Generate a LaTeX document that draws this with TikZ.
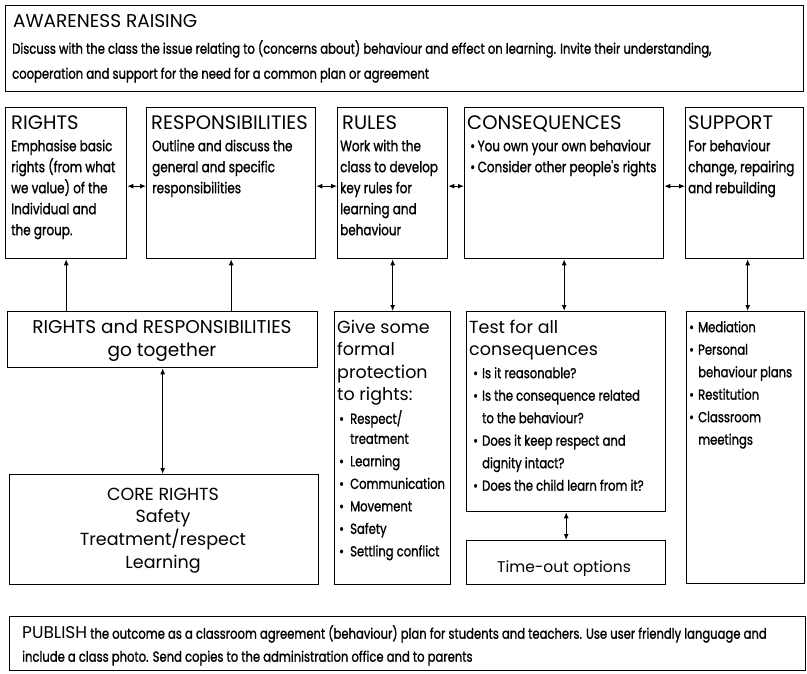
\documentclass[tikz,border=0pt]{standalone}
\usepackage{fontspec}
\setmainfont{Poppins}
\newfontfamily\geo{Poppins}
\newfontfamily\cond[FakeStretch=0.8,FakeBold=1.2]{Poppins}
\usetikzlibrary{arrows.meta}
\newcommand\topst[1]{\rule{0pt}{#1}}
\newcommand\bul{\makebox[9pt][l]{\textbullet}}
\newcommand\bulw{\makebox[11pt][l]{\textbullet}}
\newcommand\ind{\hspace*{9pt}}
\newcommand\indw{\hspace*{11pt}}
\begin{document}
\begin{tikzpicture}[x=1pt,y=-1pt,
  box/.style={draw, line width=1.3pt, rectangle, inner sep=0pt, anchor=north west},
  txt/.style={anchor=north west, inner sep=0pt, align=left},
  ctr/.style={anchor=north, inner sep=0pt, align=center},
  head/.style={font=\geo\fontsize{19.5}{21}\selectfont},
  ghead/.style={font=\geo\fontsize{17.5}{22.5}\selectfont},
  body/.style={font=\cond\fontsize{15}{21}\selectfont},
  lbody/.style={font=\cond\fontsize{14.5}{22.5}\selectfont},
  tip/.style={line width=1.1pt},
  both/.style={tip, {Latex[length=6pt,width=5pt]}-{Latex[length=6pt,width=5pt]}},
  up/.style={tip, -{Latex[length=6pt,width=5pt]}}
]
\useasboundingbox (0,0) rectangle (807,674);

% ---- boxes ----
\node[box, minimum width=798pt, minimum height=86pt] (aware) at (5,5) {};
\node[box, minimum width=121pt, minimum height=151pt] (rights) at (5,107) {};
\node[box, minimum width=169pt, minimum height=151pt] (resp) at (146,107) {};
\node[box, minimum width=110pt, minimum height=151pt] (rules) at (337,107) {};
\node[box, minimum width=199pt, minimum height=151pt] (conseq) at (464,107) {};
\node[box, minimum width=118pt, minimum height=151pt] (support) at (685,107) {};
\node[box, minimum width=310pt, minimum height=56pt] (rr) at (7,311) {};
\node[box, minimum width=116pt, minimum height=273pt] (prot) at (334,311) {};
\node[box, minimum width=199pt, minimum height=200pt] (test) at (466,311) {};
\node[box, minimum width=118pt, minimum height=272pt] (supl) at (686,311) {};
\node[box, minimum width=309pt, minimum height=110pt] (core) at (9,474) {};
\node[box, minimum width=199pt, minimum height=44pt] (timeout) at (466,540) {};
\node[box, minimum width=796pt, minimum height=54pt] (publish) at (9,616) {};

% ---- texts ----
\node[txt, font=\geo\fontsize{18.5}{19}\selectfont] (awareh) at (13,14) {\topst{13pt}AWARENESS RAISING};
\node[txt, font=\cond\fontsize{14.5}{25}\selectfont] (awareb) at (12,40) {\topst{12pt}Discuss with the class the issue relating to (concerns about) behaviour and effect on learning. Invite their understanding,\\
cooperation and support for the need for a common plan or agreement};

\node[txt, head] (rightsh) at (11,114) {\topst{15pt}RIGHTS};
\node[txt, body] (rightsb) at (11,139) {\topst{12pt}Emphasise basic\\rights (from what\\we value) of the\\Individual and\\the group.};
\node[txt, head] (resph) at (151,114) {\topst{15pt}RESPONSIBILITIES};
\node[txt, body] (respb) at (152,139) {\topst{12pt}Outline and discuss the\\general and specific\\responsibilities};
\node[txt, head] (rulesh) at (342,114) {\topst{15pt}RULES};
\node[txt, body] (rulesb) at (340,139) {\topst{12pt}Work with the\\class to develop\\key rules for\\learning and\\behaviour};
\node[txt, head] (conseqh) at (467,114) {\topst{15pt}CONSEQUENCES};
\node[txt, body] (conseqb) at (470,139) {\topst{12pt}\textbullet\,You own your own behaviour\\\textbullet\,Consider other people's rights};
\node[txt, head] (supporth) at (688,114) {\topst{15pt}SUPPORT};
\node[txt, body] (supportb) at (688,139) {\topst{12pt}For behaviour\\change, repairing\\and rebuilding};

\node[ctr, ghead, font=\geo\fontsize{18.5}{23}\selectfont] (rrt) at (162,318) {\topst{15pt}RIGHTS and RESPONSIBILITIES\\go together};

\node[txt, ghead] (proth) at (337,318) {\topst{15pt}Give some\\formal\\protection\\to rights:};
\node[txt, lbody] (protb) at (339,410) {\topst{12pt}\bulw Respect/\\[-2.5pt]\indw treatment\\\bulw Learning\\\bulw Communication\\\bulw Movement\\\bulw Safety\\\bulw Settling conflict};

\node[txt, ghead] (testh) at (469,318) {\topst{15pt}Test for all\\consequences};
\node[txt, lbody] (testb) at (473,366) {\topst{12pt}\bul Is it reasonable?\\\bul Is the consequence related\\\ind to the behaviour?\\\bul Does it keep respect and\\\ind dignity intact?\\\bul Does the child learn from it?};

\node[txt, lbody] (suplb) at (689,320) {\topst{12pt}\bul Mediation\\\bul Personal\\\ind behaviour plans\\\bul Restitution\\\bul Classroom\\\ind meetings};

\node[ctr, ghead, font=\geo\fontsize{17.5}{22.7}\selectfont] (coret) at (163,485) {\topst{15pt}CORE RIGHTS\\Safety\\Treatment/respect\\Learning};

\node[anchor=base, inner sep=0pt, font=\geo\fontsize{15.5}{18}\selectfont] (timeoutt) at (564,572) {Time-out options};

\node[txt, font=\cond\fontsize{14.5}{23}\selectfont] (publisht) at (22,625) {\topst{12pt}{\geo\fontsize{17}{18}\selectfont PUBLISH} the outcome as a classroom agreement (behaviour) plan for students and teachers. Use user friendly language and\\
include a class photo. Send copies to the administration office and to parents};

% ---- connectors ----
\draw[both] ([yshift=-3pt]rights.east) -- ([yshift=-3pt]resp.west);
\draw[both] ([yshift=-3pt]resp.east) -- ([yshift=-3pt]rules.west);
\draw[both] ([yshift=-3pt]rules.east) -- ([yshift=-3pt]conseq.west);
\draw[both] ([yshift=-3pt]conseq.east) -- ([yshift=-3pt]support.west);

\draw[up] (rr.north -| rights.south) -- (rights.south);
\draw[up] (rr.north -| resp.south) -- (resp.south);
\draw[both] (rr.south) -- (rr.south |- core.north);
\draw[both] (rules.south) -- (rules.south |- prot.north);
\draw[both] (conseq.south) -- (conseq.south |- test.north);
\draw[both] ([xshift=3pt]support.south) -- ([xshift=3pt]support.south |- supl.north);
\draw[both] (test.south) -- (test.south |- timeout.north);
\end{tikzpicture}
\end{document}
